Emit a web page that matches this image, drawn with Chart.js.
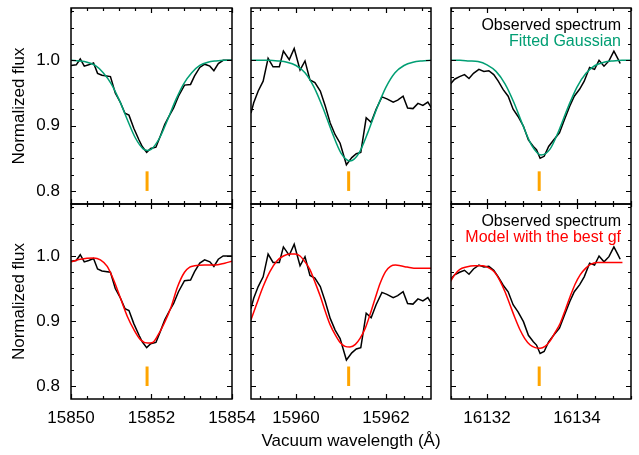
<!DOCTYPE html>
<html>
<head>
<meta charset="utf-8">
<script src="https://cdn.jsdelivr.net/npm/chart.js@4/dist/chart.umd.min.js"></script>
<style>
html,body{margin:0;padding:0;background:#fff;}
#wrap{position:relative;width:639px;height:455px;overflow:hidden;background:#fff;}
#wrap canvas{position:absolute;left:0;top:0;}
#xtitle{position:absolute;left:151px;width:400px;top:432px;text-align:center;
  font:17px 'Liberation Sans',Arial,sans-serif;line-height:17px;color:#000;white-space:nowrap;}
</style>
</head>
<body>
<div id="wrap">
<canvas id="c00" width="639" height="455"></canvas>
<canvas id="c10" width="639" height="455"></canvas>
<canvas id="c20" width="639" height="455"></canvas>
<canvas id="c01" width="639" height="455"></canvas>
<canvas id="c11" width="639" height="455"></canvas>
<canvas id="c21" width="639" height="455"></canvas>
<div id="xtitle">Vacuum wavelength (Å)</div>
</div>
<script>
// ---------------- DATA ----------------
// Column 1 (around 15852 Å)
const obsWave1 = [15850.00,15850.13,15850.23,15850.33,15850.44,15850.56,15850.66,15850.77,15850.98,15851.10,15851.23,15851.34,15851.44,15851.56,15851.69,15851.77,15851.88,15851.98,15852.11,15852.22,15852.33,15852.44,15852.55,15852.67,15852.82,15852.97,15853.07,15853.20,15853.32,15853.45,15853.55,15853.66,15853.78,15854.00];
const obsFlux1 = [0.992,0.993,1.002,0.991,0.993,0.996,0.980,0.977,0.975,0.950,0.935,0.919,0.916,0.896,0.878,0.868,0.859,0.865,0.867,0.884,0.902,0.915,0.927,0.945,0.962,0.963,0.976,0.989,0.994,0.991,0.984,0.995,1.000,1.000];
const gaussWave1 = [15850.0,15850.2,15850.4,15850.6,15850.8,15851.0,15851.2,15851.4,15851.6,15851.8,15851.9,15852.0,15852.2,15852.4,15852.6,15852.8,15853.0,15853.2,15853.4,15853.6,15853.8,15854.0];
const gaussFlux1 = [1.000,0.999,0.997,0.992,0.981,0.964,0.939,0.909,0.881,0.864,0.862,0.864,0.881,0.909,0.939,0.964,0.981,0.992,0.997,0.999,1.000,1.000];
const modelWave1 = [15850.00,15850.23,15850.56,15850.73,15850.90,15851.06,15851.23,15851.40,15851.56,15851.73,15851.90,15852.03,15852.15,15852.32,15852.49,15852.65,15852.82,15852.95,15853.07,15853.32,15853.57,15853.82,15854.00];
const modelFlux1 = [0.991,0.995,0.997,0.994,0.984,0.963,0.935,0.907,0.887,0.871,0.866,0.867,0.877,0.897,0.922,0.953,0.975,0.983,0.985,0.986,0.986,0.989,0.992];

// Column 2 (around 15961 Å)
const obsWave2 = [15959.00,15959.06,15959.16,15959.27,15959.38,15959.49,15959.63,15959.72,15959.85,15959.96,15960.09,15960.20,15960.31,15960.42,15960.54,15960.65,15960.76,15960.87,15960.98,15961.12,15961.24,15961.34,15961.44,15961.56,15961.67,15961.78,15961.91,15962.02,15962.16,15962.26,15962.38,15962.48,15962.60,15962.71,15962.82,15962.93,15963.01];
const obsFlux2 = [0.919,0.935,0.953,0.968,1.003,0.990,0.990,1.014,1.001,1.018,0.985,0.999,0.970,0.966,0.953,0.930,0.904,0.886,0.873,0.840,0.851,0.857,0.859,0.912,0.905,0.925,0.944,0.941,0.936,0.939,0.945,0.927,0.926,0.934,0.931,0.936,0.927];
const gaussWave2 = [15959.0,15959.2,15959.4,15959.6,15959.8,15960.0,15960.2,15960.4,15960.6,15960.8,15961.0,15961.2,15961.4,15961.6,15961.8,15962.0,15962.2,15962.4,15962.6,15962.8,15963.0];
const gaussFlux2 = [1.000,1.000,1.000,0.999,0.997,0.992,0.981,0.959,0.927,0.890,0.858,0.846,0.858,0.890,0.927,0.959,0.981,0.992,0.997,0.999,1.000];
const modelWave2 = [15959.00,15959.12,15959.27,15959.42,15959.57,15959.72,15959.87,15959.98,15960.09,15960.20,15960.31,15960.42,15960.54,15960.65,15960.76,15960.87,15960.98,15961.09,15961.20,15961.32,15961.43,15961.54,15961.65,15961.76,15961.87,15961.99,15962.10,15962.21,15962.32,15962.47,15962.69,15963.01];
const modelFlux2 = [0.902,0.925,0.953,0.976,0.992,1.000,1.003,1.003,1.000,0.991,0.979,0.960,0.938,0.915,0.894,0.879,0.867,0.861,0.860,0.864,0.874,0.889,0.911,0.935,0.958,0.976,0.984,0.986,0.985,0.983,0.981,0.981];

// Column 3 (around 16133 Å)
const obsWave3 = [16131.18,16131.28,16131.39,16131.50,16131.60,16131.70,16131.82,16131.93,16132.04,16132.15,16132.25,16132.36,16132.47,16132.58,16132.69,16132.81,16132.92,16133.03,16133.10,16133.18,16133.27,16133.37,16133.48,16133.61,16133.72,16133.84,16133.94,16134.06,16134.16,16134.28,16134.39,16134.49,16134.60,16134.71,16134.82,16134.91,16134.96];
const obsFlux3 = [0.963,0.971,0.975,0.978,0.972,0.980,0.986,0.983,0.984,0.978,0.968,0.955,0.945,0.925,0.914,0.899,0.878,0.868,0.863,0.850,0.853,0.868,0.878,0.889,0.909,0.930,0.945,0.956,0.968,0.989,0.986,1.000,0.991,0.999,1.014,1.002,0.995];
const gaussWave3 = [16131.2,16131.4,16131.6,16131.8,16132.0,16132.2,16132.4,16132.6,16132.8,16133.0,16133.2,16133.4,16133.6,16133.8,16134.0,16134.2,16134.4,16134.6,16134.8,16135.0,16135.2];
const gaussFlux3 = [1.000,1.000,0.999,0.998,0.993,0.983,0.964,0.935,0.900,0.869,0.855,0.864,0.893,0.928,0.959,0.980,0.992,0.997,0.999,1.000,1.000];
const modelWave3 = [16131.18,16131.28,16131.39,16131.54,16131.72,16131.91,16132.06,16132.17,16132.28,16132.40,16132.51,16132.62,16132.73,16132.84,16132.96,16133.07,16133.18,16133.29,16133.40,16133.51,16133.63,16133.74,16133.85,16133.96,16134.07,16134.19,16134.30,16134.45,16134.67,16135.01];
const modelFlux3 = [0.960,0.971,0.979,0.983,0.985,0.985,0.981,0.975,0.963,0.945,0.925,0.905,0.887,0.873,0.863,0.859,0.858,0.861,0.869,0.882,0.897,0.917,0.938,0.957,0.971,0.981,0.987,0.990,0.990,0.990];

// Line positions (orange markers) and their flux extent
const lineWaves = [15851.89, 15961.17, 16133.16];
const markerFlux = [0.80, 0.83];

// Axis ranges and tick labels
const xRanges = [[15850, 15854], [15959, 15963], [16131.2, 16135.2]];
const xTickLabels = [[15850, 15852, 15854], [15960, 15962], [16132, 16134]];
const yRange = [0.78, 1.08];
const yTickLabels = [0.8, 0.9, 1.0];

const labelObs = 'Observed spectrum';
const labelGauss = 'Fitted Gaussian';
const labelModel = 'Model with the best gf';

// ---------------- STYLE / LAYOUT ----------------
const FONT = "'Liberation Sans', Arial, sans-serif";
Chart.defaults.font.family = FONT;
Chart.defaults.color = '#000';
const COL_L = [71, 251, 451], COL_R = [232, 431, 631];
const ROW_T = [8, 204], ROW_B = [204, 399];
const W = 639, H = 455;
const C_BLACK = '#000000', C_GREEN = '#009e73', C_RED = '#ff0000', C_ORANGE = '#ffa500';

function pts(xs, ys) { return xs.map((v, i) => ({x: v, y: ys[i]})); }

const framePlugin = {
  id: 'frame',
  afterDatasetsDraw(chart, args, opts) {
    const {ctx, chartArea: a} = chart;
    const xs = chart.scales.x, ys = chart.scales.y;
    ctx.save();
    ctx.strokeStyle = '#000';
    ctx.lineWidth = 1.2;
    ctx.beginPath();
    const eps = 1e-6;
    const isMajor = (v, arr, st) => arr.some(m => Math.abs(Math.round((v - m) / st) * st - (v - m)) < eps && Math.abs(((v - m) / st) % (arr.length > 1 ? (arr[1]-arr[0]) / st : 1e9)) < eps);
    // x ticks
    const xMaj = opts.xMajor, xMin = opts.xMinorStep, xMajStep = opts.xMajorStep;
    let v0 = xMaj[0];
    while (v0 - xMin >= xs.min - eps) v0 -= xMin;
    for (let v = v0; v <= xs.max + eps; v += xMin) {
      const k = (v - xMaj[0]) / xMajStep;
      const major = Math.abs(k - Math.round(k)) < 1e-4;
      const len = major ? 5 : 3;
      const px = Math.round(xs.getPixelForValue(v)) + 0.5;
      ctx.moveTo(px, a.bottom); ctx.lineTo(px, a.bottom - len);
      ctx.moveTo(px, a.top); ctx.lineTo(px, a.top + len);
    }
    // y ticks
    const yMaj = opts.yMajor, yMin = opts.yMinorStep, yMajStep = opts.yMajorStep;
    let w0 = yMaj[0];
    while (w0 - yMin >= ys.min - eps) w0 -= yMin;
    for (let v = w0; v <= ys.max + eps; v += yMin) {
      const k = (v - yMaj[0]) / yMajStep;
      const major = Math.abs(k - Math.round(k)) < 1e-4;
      const len = major ? 5 : 3;
      const py = Math.round(ys.getPixelForValue(v)) + 0.5;
      ctx.moveTo(a.left, py); ctx.lineTo(a.left + len, py);
      ctx.moveTo(a.right, py); ctx.lineTo(a.right - len, py);
    }
    ctx.stroke();
    ctx.lineWidth = 1.5;
    ctx.strokeRect(a.left, a.top, a.right - a.left, a.bottom - a.top);
    ctx.restore();
  }
};

const textLegendPlugin = {
  id: 'textLegend',
  afterDatasetsDraw(chart, args, opts) {
    if (!opts.show) return;
    const {ctx, chartArea: a} = chart;
    const ds = chart.data.datasets.filter(d => d.inLegend).sort((p, q) => p.legendRank - q.legendRank);
    ctx.save();
    ctx.font = '16px ' + FONT;
    ctx.textAlign = 'right';
    ctx.textBaseline = 'alphabetic';
    ds.forEach((d, i) => {
      ctx.fillStyle = d.borderColor;
      ctx.fillText(d.label, a.right - 10, a.top + 22 + i * 16);
    });
    ctx.restore();
  }
};

function makeChart(col, row) {
  const L = COL_L[col], R = COL_R[col], T = ROW_T[row], B = ROW_B[row];
  const showY = col === 0, showX = row === 1;
  const yW = showY ? L : 0;
  const xH = showX ? H - B : 0;
  const obsW = [obsWave1, obsWave2, obsWave3][col];
  const obsF = [obsFlux1, obsFlux2, obsFlux3][col];
  const fitW = row === 0 ? [gaussWave1, gaussWave2, gaussWave3][col] : [modelWave1, modelWave2, modelWave3][col];
  const fitF = row === 0 ? [gaussFlux1, gaussFlux2, gaussFlux3][col] : [modelFlux1, modelFlux2, modelFlux3][col];
  const fitColor = row === 0 ? C_GREEN : C_RED;
  const fitLabel = row === 0 ? labelGauss : labelModel;
  const zeroPad = s => { s.paddingTop = 0; s.paddingBottom = 0; s.paddingLeft = 0; s.paddingRight = 0; };
  return new Chart(document.getElementById('c' + col + row), {
    type: 'line',
    data: {
      datasets: [
        {label: fitLabel, data: pts(fitW, fitF), borderColor: fitColor, borderWidth: 1.5, pointRadius: 0,
         cubicInterpolationMode: 'monotone', fill: false, order: 0, inLegend: true, legendRank: 1},
        {label: labelObs, data: pts(obsW, obsF), borderColor: C_BLACK, borderWidth: 1.5, pointRadius: 0,
         tension: 0, fill: false, order: 1, inLegend: true, legendRank: 0},
        {label: 'line', data: pts([lineWaves[col], lineWaves[col]], markerFlux), borderColor: C_ORANGE,
         borderWidth: 3, pointRadius: 0, borderCapStyle: 'butt', fill: false, order: 2}
      ]
    },
    options: {
      responsive: false, animation: false, events: [],
      layout: {padding: {left: L - yW, right: W - R, top: T, bottom: H - B - xH}},
      plugins: {
        legend: {display: false}, tooltip: {enabled: false},
        frame: {xMajor: xTickLabels[col], xMajorStep: 2, xMinorStep: 0.4, yMajor: yTickLabels, yMajorStep: 0.1, yMinorStep: 0.025},
        textLegend: {show: col === 2}
      },
      scales: {
        x: {
          type: 'linear', position: 'bottom', min: xRanges[col][0], max: xRanges[col][1],
          grid: {display: false, drawTicks: false}, border: {display: false},
          afterBuildTicks: s => { s.ticks = xTickLabels[col].map(v => ({value: v})); },
          afterFit: s => { s.height = xH; zeroPad(s); },
          ticks: {display: showX, padding: 9, font: {size: 17}, color: '#000', maxRotation: 0, minRotation: 0,
                  autoSkip: false, callback: v => String(v)}
        },
        y: {
          type: 'linear', position: 'left', min: yRange[0], max: yRange[1],
          grid: {display: false, drawTicks: false}, border: {display: false},
          afterBuildTicks: s => { s.ticks = yTickLabels.map(v => ({value: v})); },
          afterFit: s => { s.width = yW; zeroPad(s); },
          ticks: {display: showY, padding: 11, font: {size: 17}, color: '#000', autoSkip: false,
                  callback: v => Number(v).toFixed(1)},
          title: {display: showY, text: 'Normalized flux', font: {size: 17}, color: '#000', padding: {top: 9, bottom: 0}}
        }
      }
    },
    plugins: [framePlugin, textLegendPlugin]
  });
}

for (let r = 0; r < 2; r++) for (let c = 0; c < 3; c++) makeChart(c, r);
</script>
</body>
</html>
